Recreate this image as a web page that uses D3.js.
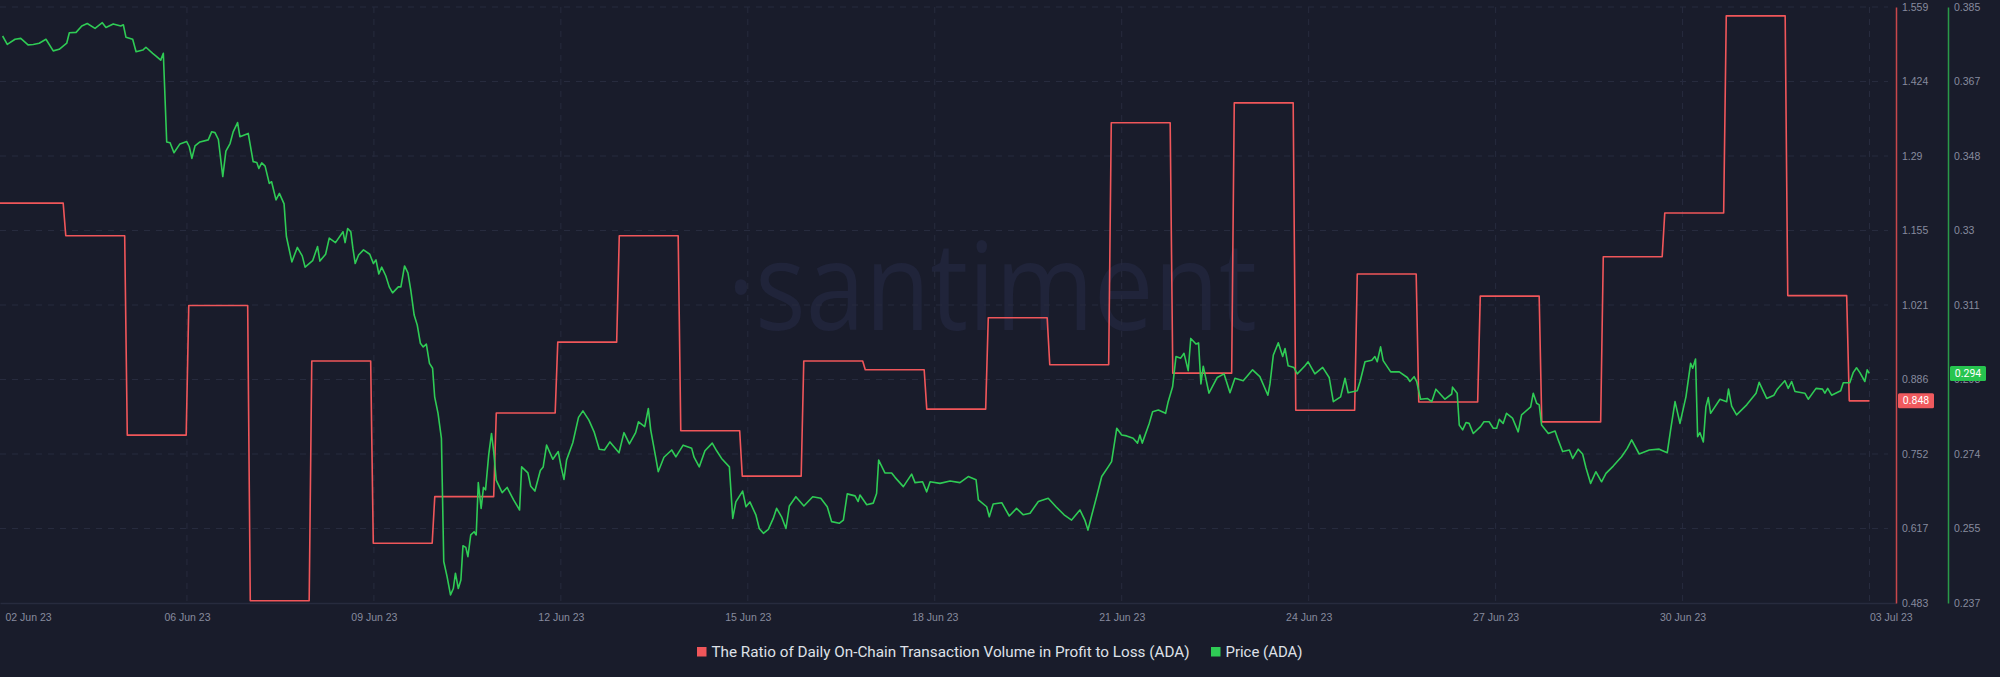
<!DOCTYPE html>
<html>
<head>
<meta charset="utf-8">
<script src="https://cdn.jsdelivr.net/npm/d3@7"></script>
<style>
    html, body { margin: 0; padding: 0; background: #191c2b; }
    svg { display: block; }
</style>
</head>
<body>
<div id="chart"></div>
<script>
// time axis: hours counted from 03 Jun 2023 00:00 UTC
var startDate = "2023-06-03T00:00:00Z";
var endDate = "2023-07-03T10:12:00Z";

var xTickDates = ["2023-06-03T00:00:00Z", "2023-06-06T00:00:00Z", "2023-06-09T00:00:00Z", "2023-06-12T00:00:00Z",
    "2023-06-15T00:00:00Z", "2023-06-18T00:00:00Z", "2023-06-21T00:00:00Z", "2023-06-24T00:00:00Z",
    "2023-06-27T00:00:00Z", "2023-06-30T00:00:00Z", "2023-07-03T00:00:00Z"];
var xTickLabels = ["02 Jun 23", "06 Jun 23", "09 Jun 23", "12 Jun 23", "15 Jun 23", "18 Jun 23",
    "21 Jun 23", "24 Jun 23", "27 Jun 23", "30 Jun 23", "03 Jul 23"];

var ratioTickLabels = ["0.483", "0.617", "0.752", "0.886", "1.021", "1.155", "1.29", "1.424", "1.559"];
var priceTickLabels = ["0.237", "0.255", "0.274", "0.293", "0.311", "0.33", "0.348", "0.367", "0.385"];

// daily ratio of on-chain volume in profit to loss
var ratioValues = [1.205, 1.146, 0.786, 1.020, 0.487, 0.920, 0.591, 0.675, 0.826, 0.954,
    1.146, 0.794, 0.712, 0.920, 0.904, 0.833, 0.998, 0.913, 1.350, 0.898,
    1.386, 0.831, 1.077, 0.846, 1.037, 0.810, 1.108, 1.187, 1.543, 1.038, 0.848];
var ratioFirstChange = "2023-06-04T00:50:00Z";
var ratioLastChange = "2023-07-02T15:42:00Z";
var ratioEnd = "2023-07-03T00:00:00Z";

// price (ADA) as [hours since start, price]
var pricePoints = [
    [1.0, 0.3778], [2.8, 0.3757], [5.8, 0.3770], [8.0, 0.3772], [10.8, 0.3756], [12.8, 0.3757], [15.1, 0.3760],
    [17.7, 0.3770], [20.5, 0.3741], [22.8, 0.3745], [25.7, 0.3760], [26.7, 0.3786], [29.3, 0.3787], [31.5, 0.3803],
    [33.6, 0.3809], [36.6, 0.3797], [39.4, 0.3811], [40.8, 0.3799], [43.6, 0.3808], [46.5, 0.3803], [47.5, 0.3806],
    [48.5, 0.3775], [51.1, 0.3770], [52.4, 0.3739], [55.0, 0.3743], [56.2, 0.3750], [58.8, 0.3735], [60.1, 0.3728],
    [61.9, 0.3718], [62.9, 0.3735], [64.2, 0.3515], [65.5, 0.3513], [67.0, 0.3488], [69.3, 0.3510], [71.9, 0.3516],
    [72.9, 0.3503], [73.9, 0.3474], [75.1, 0.3505], [77.0, 0.3515], [80.2, 0.3520], [81.5, 0.3540], [82.8, 0.3538],
    [84.1, 0.3521], [85.8, 0.3429], [87.0, 0.3492], [88.6, 0.3511], [89.8, 0.3540], [91.5, 0.3563], [92.4, 0.3528],
    [95.6, 0.3536], [97.5, 0.3466], [98.9, 0.3464], [99.7, 0.3449], [100.8, 0.3463], [102.1, 0.3455], [103.7, 0.3412],
    [104.6, 0.3416], [106.3, 0.3371], [107.6, 0.3387], [109.4, 0.3361], [110.3, 0.3280], [112.4, 0.3217], [114.5, 0.3253],
    [116.4, 0.3232], [117.5, 0.3204], [120.4, 0.3220], [122.3, 0.3255], [123.2, 0.3219], [125.4, 0.3236], [126.8, 0.3276],
    [129.2, 0.3265], [132.1, 0.3292], [132.9, 0.3265], [133.9, 0.3300], [135.1, 0.3292], [135.9, 0.3251], [136.8, 0.3213],
    [138.1, 0.3234], [140.0, 0.3247], [142.4, 0.3236], [143.8, 0.3213], [144.8, 0.3222], [145.9, 0.3187], [147.0, 0.3204],
    [148.6, 0.3182], [149.9, 0.3155], [151.2, 0.3140], [153.4, 0.3155], [154.4, 0.3155], [155.8, 0.3207], [157.1, 0.3190],
    [158.2, 0.3147], [159.5, 0.3085], [160.7, 0.3060], [161.9, 0.3015], [163.0, 0.3006], [164.2, 0.3013], [165.4, 0.2965],
    [166.6, 0.2953], [167.4, 0.2882], [168.7, 0.2841], [170.0, 0.2779], [170.9, 0.2473], [172.2, 0.2435], [173.5, 0.2390],
    [174.6, 0.2406], [175.4, 0.2444], [176.5, 0.2406], [177.5, 0.2427], [178.3, 0.2512], [179.4, 0.2508], [180.2, 0.2485],
    [181.3, 0.2539], [182.6, 0.2547], [183.4, 0.2539], [184.2, 0.2669], [185.3, 0.2605], [186.2, 0.2657], [187.0, 0.2651],
    [188.2, 0.2737], [189.3, 0.2791], [190.2, 0.2742], [191.1, 0.2675], [193.4, 0.2644], [195.3, 0.2657], [197.8, 0.2626],
    [200.1, 0.2601], [200.9, 0.2708], [203.3, 0.2693], [204.4, 0.2660], [206.0, 0.2648], [208.1, 0.2699], [209.2, 0.2708],
    [210.5, 0.2762], [212.9, 0.2727], [215.0, 0.2746], [216.1, 0.2708], [217.2, 0.2677], [218.2, 0.2725], [220.6, 0.2768],
    [222.8, 0.2831], [224.5, 0.2847], [226.8, 0.2824], [228.8, 0.2795], [230.8, 0.2752], [232.8, 0.2750], [234.9, 0.2770],
    [238.4, 0.2743], [240.3, 0.2793], [242.4, 0.2765], [244.8, 0.2793], [245.9, 0.2820], [248.3, 0.2808], [249.7, 0.2853],
    [250.6, 0.2800], [252.5, 0.2733], [253.5, 0.2696], [255.7, 0.2732], [258.7, 0.2750], [260.3, 0.2733], [263.1, 0.2762],
    [266.4, 0.2754], [267.3, 0.2732], [269.3, 0.2708], [271.5, 0.2748], [274.3, 0.2767], [276.0, 0.2748], [277.9, 0.2729],
    [280.9, 0.2708], [282.2, 0.2580], [283.4, 0.2621], [286.0, 0.2648], [287.3, 0.2609], [288.8, 0.2621], [291.1, 0.2589],
    [292.4, 0.2555], [294.0, 0.2543], [295.9, 0.2553], [297.8, 0.2580], [299.1, 0.2605], [301.0, 0.2584], [302.7, 0.2555],
    [304.0, 0.2611], [306.5, 0.2634], [309.6, 0.2611], [313.0, 0.2634], [316.1, 0.2630], [318.6, 0.2609], [320.3, 0.2572],
    [323.2, 0.2568], [324.8, 0.2576], [326.3, 0.2641], [329.3, 0.2636], [330.5, 0.2622], [331.2, 0.2638], [333.8, 0.2614],
    [336.3, 0.2618], [337.6, 0.2642], [338.4, 0.2725], [340.8, 0.2693], [343.4, 0.2693], [344.7, 0.2682], [347.9, 0.2659],
    [351.1, 0.2690], [352.4, 0.2669], [355.3, 0.2671], [356.9, 0.2646], [358.2, 0.2671], [362.0, 0.2667], [365.9, 0.2673],
    [369.7, 0.2669], [372.9, 0.2684], [375.9, 0.2676], [376.8, 0.2626], [380.0, 0.2609], [381.0, 0.2584], [382.5, 0.2616],
    [385.8, 0.2619], [388.7, 0.2586], [391.5, 0.2605], [394.1, 0.2589], [396.7, 0.2593], [399.9, 0.2622], [403.7, 0.2630],
    [406.7, 0.2609], [409.8, 0.2589], [412.7, 0.2576], [415.9, 0.2601], [417.8, 0.2576], [419.0, 0.2551], [420.5, 0.2589],
    [422.5, 0.2638], [424.3, 0.2684], [426.8, 0.2708], [428.1, 0.2721], [430.1, 0.2804], [432.0, 0.2787], [433.9, 0.2785],
    [436.4, 0.2779], [438.1, 0.2767], [439.0, 0.2787], [439.9, 0.2767], [442.6, 0.2816], [443.9, 0.2845], [446.1, 0.2849],
    [448.9, 0.2841], [449.9, 0.2870], [451.6, 0.2907], [452.9, 0.2982], [454.7, 0.2978], [456.0, 0.2990], [457.6, 0.2947],
    [458.6, 0.3027], [460.6, 0.3013], [461.6, 0.3016], [462.5, 0.2914], [463.4, 0.2958], [465.6, 0.2891], [468.8, 0.2930],
    [471.4, 0.2939], [473.7, 0.2892], [475.6, 0.2928], [478.8, 0.2922], [482.4, 0.2949], [485.2, 0.2932], [488.3, 0.2886],
    [489.1, 0.2914], [490.4, 0.2986], [492.3, 0.3016], [494.0, 0.2982], [494.9, 0.3002], [496.1, 0.2959], [498.3, 0.2955],
    [499.6, 0.2939], [502.6, 0.2959], [503.8, 0.2969], [506.4, 0.2939], [509.4, 0.2955], [511.9, 0.2930], [513.5, 0.2870],
    [516.3, 0.2882], [518.0, 0.2928], [519.2, 0.2892], [522.7, 0.2897], [523.8, 0.2920], [525.7, 0.2969], [528.3, 0.2973],
    [529.5, 0.2982], [530.4, 0.2969], [531.7, 0.3006], [532.7, 0.2972], [535.6, 0.2944], [538.9, 0.2944], [542.0, 0.2930],
    [543.0, 0.2920], [544.6, 0.2932], [545.6, 0.2920], [547.1, 0.2876], [549.7, 0.2878], [551.4, 0.2870], [553.0, 0.2901],
    [556.5, 0.2876], [559.1, 0.2889], [559.4, 0.2906], [561.2, 0.2891], [562.0, 0.2812], [563.3, 0.2800], [564.6, 0.2818],
    [565.8, 0.2816], [567.4, 0.2791], [570.2, 0.2808], [571.5, 0.2820], [573.5, 0.2820], [575.1, 0.2804], [576.4, 0.2804],
    [577.4, 0.2826], [578.9, 0.2816], [580.2, 0.2841], [582.5, 0.2829], [584.7, 0.2795], [586.0, 0.2837], [589.5, 0.2857],
    [590.5, 0.2891], [591.8, 0.2866], [592.8, 0.2862], [593.7, 0.2812], [596.3, 0.2791], [598.9, 0.2797], [600.1, 0.2775],
    [601.8, 0.2746], [604.4, 0.2750], [605.7, 0.2729], [607.8, 0.2752], [609.5, 0.2740], [610.8, 0.2706], [612.6, 0.2667],
    [614.6, 0.2696], [616.8, 0.2671], [618.5, 0.2692], [621.3, 0.2710], [624.5, 0.2733], [626.7, 0.2754], [628.4, 0.2775],
    [631.3, 0.2740], [635.2, 0.2750], [639.0, 0.2752], [642.1, 0.2743], [643.4, 0.2800], [645.1, 0.2870], [647.0, 0.2816],
    [649.3, 0.2882], [651.1, 0.2965], [651.9, 0.2953], [653.0, 0.2976], [653.8, 0.2783], [654.7, 0.2793], [656.0, 0.2770],
    [657.0, 0.2857], [657.9, 0.2880], [658.8, 0.2841], [662.4, 0.2876], [665.0, 0.2870], [665.7, 0.2901], [666.9, 0.2859],
    [668.8, 0.2837], [672.7, 0.2862], [676.3, 0.2891], [677.5, 0.2918], [680.4, 0.2878], [683.2, 0.2886], [684.5, 0.2901],
    [687.4, 0.2922], [688.7, 0.2903], [690.0, 0.2920], [691.3, 0.2895], [695.1, 0.2891], [696.4, 0.2876], [699.4, 0.2903],
    [701.9, 0.2901], [702.8, 0.2891], [703.9, 0.2903], [705.4, 0.2886], [708.9, 0.2897], [709.9, 0.2917], [712.4, 0.2917],
    [713.7, 0.2942], [715.0, 0.2954], [716.3, 0.2942], [718.2, 0.2920], [719.1, 0.2949], [719.9, 0.2940]
];

var legendLabels = ["The Ratio of Daily On-Chain Transaction Volume in Profit to Loss (ADA)", "Price (ADA)"];

function makeChart() {
    var width = 2000,
        height = 677,
        plot = { left: 0, top: 7, right: 1896, bottom: 603 };

    var ratioColor = "#f0565a",
        priceColor = "#2fcb55",
        gridColor = "#272b3e",
        textColor = "#878b9e";

    var svg = d3
        .select("#chart")
        .append("svg")
        .attr("width", width)
        .attr("height", height)
        .style("background", "#191c2b")
        .style("font-family", "Roboto, 'Noto Sans', sans-serif");

    var t0 = new Date(startDate);
    var hourToDate = (h) => new Date(t0.getTime() + h * 3600e3);

    var x = d3
        .scaleUtc()
        .domain([t0, new Date(endDate)])
        .range([plot.left, plot.right]);
    var yRatio = d3.scaleLinear().domain([0.483, 1.559]).range([plot.bottom, plot.top]);
    var yPrice = d3.scaleLinear().domain([0.237, 0.385]).range([plot.bottom, plot.top]);

    // evenly spaced ticks, labelled as the reference does
    var ratioTicks = d3.range(9).map((i) => 0.483 + (i * (1.559 - 0.483)) / 8);
    var priceTicks = d3.range(9).map((i) => 0.237 + (i * (0.385 - 0.237)) / 8);

    // watermark
    svg.append("text")
        .attr("x", 727)
        .attr("y", 330)
        .attr("textLength", 530)
        .attr("lengthAdjust", "spacingAndGlyphs")
        .style("font-family", "'Open Sans', sans-serif")
        .style("font-size", "122px")
        .style("fill", "#20243a")
        .text("\u00b7santiment");

    // horizontal grid
    svg.append("g")
        .selectAll("line")
        .data(ratioTicks.slice(1))
        .enter()
        .append("line")
        .attr("x1", plot.left)
        .attr("x2", plot.right - 8)
        .attr("y1", (d) => yRatio(d))
        .attr("y2", (d) => yRatio(d))
        .attr("stroke", gridColor)
        .attr("stroke-width", 1)
        .attr("stroke-dasharray", "6,6");

    // vertical grid
    var tickDates = xTickDates.map((d) => new Date(d));
    svg.append("g")
        .selectAll("line")
        .data(tickDates.slice(1))
        .enter()
        .append("line")
        .attr("x1", (d) => x(d))
        .attr("x2", (d) => x(d))
        .attr("y1", plot.top)
        .attr("y2", plot.bottom)
        .attr("stroke", gridColor)
        .attr("stroke-width", 1)
        .attr("stroke-dasharray", "6,6");

    // x axis
    var xAxis = svg
        .append("g")
        .attr("transform", "translate(0," + plot.bottom + ")")
        .call(
            d3
                .axisBottom(x)
                .tickValues(tickDates)
                .tickSize(0)
                .tickPadding(11)
                .tickFormat((d, i) => xTickLabels[i])
        );
    xAxis.select(".domain").attr("stroke", gridColor).attr("stroke-width", 1.5);
    xAxis.selectAll("text")
        .style("font-size", "10.5px")
        .style("fill", textColor)
        .attr("text-anchor", (d, i) => (i === 0 ? "start" : i === xTickLabels.length - 1 ? "start" : "middle"))
        .attr("dx", (d, i) => (i === 0 ? 5 : 0));

    // right axes
    var ratioAxis = svg
        .append("g")
        .attr("transform", "translate(" + plot.right + ",0)")
        .call(
            d3
                .axisRight(yRatio)
                .tickValues(ratioTicks)
                .tickSize(0)
                .tickPadding(6)
                .tickFormat((d, i) => ratioTickLabels[i])
        );
    ratioAxis.select(".domain").attr("stroke", "#c9474b").attr("stroke-width", 1.5);
    ratioAxis.selectAll("text").style("font-size", "10.5px").style("fill", textColor);

    var priceAxis = svg
        .append("g")
        .attr("transform", "translate(" + (plot.right + 52) + ",0)")
        .call(
            d3
                .axisRight(yPrice)
                .tickValues(priceTicks)
                .tickSize(0)
                .tickPadding(6)
                .tickFormat((d, i) => priceTickLabels[i])
        );
    priceAxis.select(".domain").attr("stroke", "#2a9a48").attr("stroke-width", 1.5);
    priceAxis.selectAll("text").style("font-size", "10.5px").style("fill", textColor);

    // ratio: a level per day, short ramps between days
    var c0 = new Date(ratioFirstChange).getTime(),
        c1 = new Date(ratioLastChange).getTime(),
        step = (c1 - c0) / (ratioValues.length - 2),
        halfRamp = 0.5 * 3600e3;
    var ratioPts = [[t0, ratioValues[0]]];
    for (var k = 1; k < ratioValues.length; k++) {
        var c = c0 + (k - 1) * step;
        ratioPts.push([new Date(c - halfRamp), ratioValues[k - 1]]);
        ratioPts.push([new Date(c + halfRamp), ratioValues[k]]);
    }
    ratioPts.push([new Date(ratioEnd), ratioValues[ratioValues.length - 1]]);

    svg.append("path")
        .datum(ratioPts)
        .attr("fill", "none")
        .attr("stroke", ratioColor)
        .attr("stroke-width", 1.6)
        .attr("stroke-linejoin", "round")
        .attr(
            "d",
            d3
                .line()
                .x((d) => x(d[0]))
                .y((d) => yRatio(d[1]))
        );

    svg.append("path")
        .datum(pricePoints)
        .attr("fill", "none")
        .attr("stroke", priceColor)
        .attr("stroke-width", 1.6)
        .attr("stroke-linejoin", "round")
        .attr(
            "d",
            d3
                .line()
                .x((d) => x(hourToDate(d[0])))
                .y((d) => yPrice(d[1]))
        );

    // last value badges
    var lastRatio = ratioValues[ratioValues.length - 1];
    var lastPrice = pricePoints[pricePoints.length - 1][1];
    var badges = [
        { x: plot.right + 2, y: yRatio(lastRatio), text: d3.format(".3f")(lastRatio), color: "#f05a5e" },
        { x: plot.right + 54, y: yPrice(lastPrice), text: d3.format(".3f")(lastPrice), color: "#27c44f" },
    ];
    var badge = svg.append("g").selectAll("g").data(badges).enter().append("g");
    badge.append("rect")
        .attr("x", (d) => d.x)
        .attr("y", (d) => d.y - 7.5)
        .attr("width", 36)
        .attr("height", 15)
        .attr("rx", 1.5)
        .attr("fill", (d) => d.color);
    badge.append("text")
        .attr("x", (d) => d.x + 18)
        .attr("y", (d) => d.y)
        .attr("text-anchor", "middle")
        .attr("dominant-baseline", "central")
        .style("font-size", "10.5px")
        .style("fill", "#ffffff")
        .text((d) => d.text);

    // legend
    var legend = svg.append("g").attr("transform", "translate(697,652)");
    var item = legend
        .selectAll("g")
        .data(legendLabels)
        .enter()
        .append("g")
        .attr("transform", (d, i) => "translate(" + (i === 0 ? 0 : 514) + ",0)");
    item.append("rect")
        .attr("x", 0)
        .attr("y", -5)
        .attr("width", 9.5)
        .attr("height", 9.5)
        .attr("fill", (d, i) => (i === 0 ? ratioColor : priceColor));
    item.append("text")
        .attr("x", 14.5)
        .attr("y", 0)
        .attr("textLength", (d, i) => (i === 0 ? 478 : 77))
        .attr("lengthAdjust", "spacingAndGlyphs")
        .attr("dominant-baseline", "central")
        .style("font-size", "14.5px")
        .style("fill", "#dfe1e8")
        .text((d) => d);
}

makeChart();
</script>
</body>
</html>
